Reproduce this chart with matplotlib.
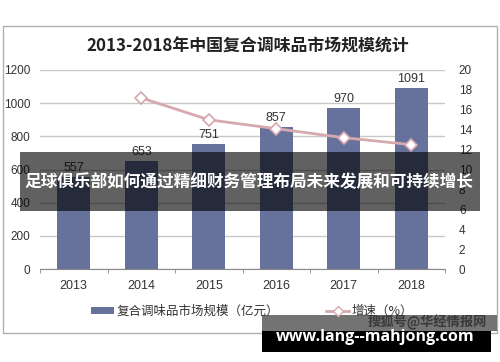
import matplotlib

matplotlib.use("Agg")
import matplotlib.pyplot as plt
from matplotlib.lines import Line2D
from matplotlib.patches import Patch, Rectangle

plt.rcParams["font.family"] = ["Noto Sans CJK SC", "DejaVu Sans"]

# chart data
years = ["2013", "2014", "2015", "2016", "2017", "2018"]
market_size = [557, 653, 751, 857, 970, 1091]  # 亿元
growth_years = ["2014", "2015", "2016", "2017", "2018"]
growth_rate = [17.2, 15.0, 14.1, 13.2, 12.5]  # %

title = "2013-2018年中国复合调味品市场规模统计"
bar_label = "复合调味品市场规模（亿元）"
line_label = "增速（%）"
banner_text = "足球俱乐部如何通过精细财务管理布局未来发展和可持续增长"
source_text = "搜狐号@华经情报网"
site_text = "www.lang--mahjong.com"

BAR_COLOR = "#66729b"
LINE_COLOR = "#d6a9ae"
GRID_COLOR = "#c8c8c8"
TEXT_COLOR = "#333333"
NUM_FONT = "Liberation Sans"

W, H = 500, 362
fig = plt.figure(figsize=(W / 100, H / 100), dpi=100)


def fx(px):
    return px / W


def fy(py):
    return 1 - py / H


# outer frame of the chart image
fig.patches.append(Rectangle((fx(3), fy(333)), fx(494), 307 / H, transform=fig.transFigure,
                             fill=False, edgecolor="#b0b0b0", linewidth=1.0))

ax = fig.add_axes([fx(40), fy(269), fx(405), 199 / H])
x = list(range(len(years)))
ax.bar(x, market_size, width=0.49, color=BAR_COLOR, zorder=2)
for xi, v in zip(x, market_size):
    ax.text(xi, v + 18, str(v), ha="center", va="bottom", fontsize=9,
            color=TEXT_COLOR, family=NUM_FONT)

ax.set_xlim(-0.5, len(years) - 0.5)
ax.set_ylim(0, 1200)
ax.set_yticks(range(0, 1201, 200))
ax.set_xticks(x)
ax.set_xticklabels(years, fontsize=9, color=TEXT_COLOR, family=NUM_FONT)
ax.tick_params(axis="x", length=0, pad=8)
ax.set_xticks([i - 0.5 for i in range(len(years) + 1)], minor=True)
ax.tick_params(axis="x", which="minor", length=3, color="#888888")
ax.tick_params(axis="y", length=0, labelsize=8.5, labelcolor=TEXT_COLOR, pad=7)
for lab in ax.get_yticklabels():
    lab.set_family(NUM_FONT)
ax.grid(axis="y", color=GRID_COLOR, linewidth=1.0, zorder=0)
for side in ("left", "right", "top"):
    ax.spines[side].set_visible(False)
ax.spines["bottom"].set_color("#888888")

ax2 = ax.twinx()
gx = [years.index(y) for y in growth_years]
ax2.plot(gx, growth_rate, color=LINE_COLOR, linewidth=2, marker="D", markersize=6,
         markerfacecolor="white", markeredgecolor=LINE_COLOR, markeredgewidth=1.2, zorder=3)
ax2.set_ylim(0, 20)
ax2.set_yticks(range(0, 21, 2))
ax2.tick_params(axis="y", length=0, labelsize=8.5, labelcolor=TEXT_COLOR, pad=10)
for lab in ax2.get_yticklabels():
    lab.set_family(NUM_FONT)
for side in ("left", "right", "top", "bottom"):
    ax2.spines[side].set_visible(False)

fig.text(fx(248), fy(47), title, ha="center", va="center", fontsize=12.2,
         fontweight="bold", color="#222222")

handles = [Patch(facecolor=BAR_COLOR, edgecolor="none"),
           Line2D([], [], color=LINE_COLOR, linewidth=2, marker="D", markersize=5,
                  markerfacecolor="white", markeredgecolor=LINE_COLOR)]
fig.legend(handles, [bar_label, line_label], loc="center left", bbox_to_anchor=(fx(80), fy(311)),
           ncol=2, frameon=False, fontsize=9, handlelength=1.8, handleheight=0.5,
           columnspacing=3.8, handletextpad=0.2, labelcolor=TEXT_COLOR)

# dark banner across the middle
fig.patches.append(Rectangle((fx(20), fy(211)), fx(460), 59 / H, transform=fig.transFigure,
                             facecolor="black", alpha=0.62, edgecolor="none", zorder=5))
fig.text(fx(249), fy(182), banner_text, ha="center", va="center", fontsize=12,
         fontweight="bold", color="white", zorder=6)

# watermark bottom right
fig.patches.append(Rectangle((fx(262), fy(331)), fx(235), 16 / H, transform=fig.transFigure,
                             facecolor="#5a5a5a", alpha=0.85, edgecolor="none", zorder=5))
fig.patches.append(Rectangle((fx(262), fy(352)), fx(229), 21 / H, transform=fig.transFigure,
                             facecolor="black", edgecolor="none", zorder=5))
fig.text(fx(487), fy(322), source_text, ha="right", va="center", fontsize=9.5,
         fontweight="bold", color="#3a3a3a", zorder=6)
fig.text(fx(375), fy(337), site_text, ha="center", va="center", fontsize=11.5,
         fontweight="bold", color="white", family="Open Sans", zorder=6)

fig.savefig("out.png", dpi=100)
